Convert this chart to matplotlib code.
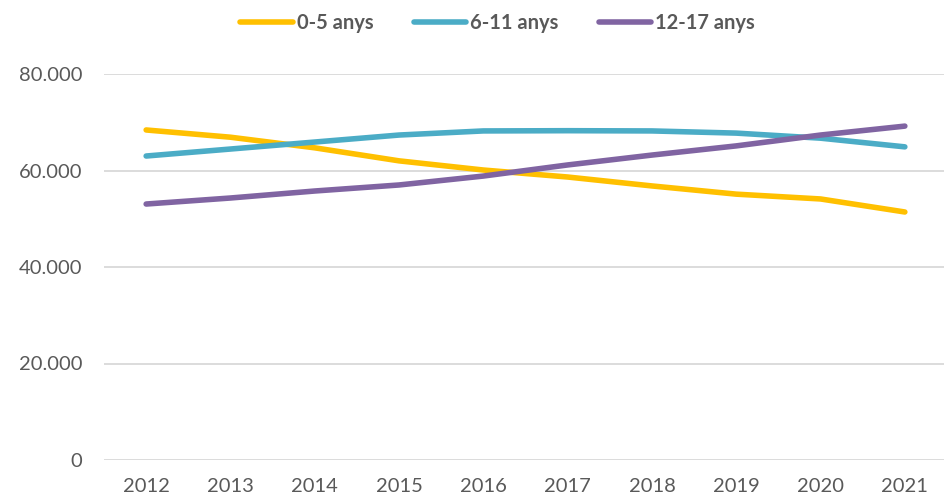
import matplotlib
matplotlib.use("Agg")
import matplotlib.pyplot as plt

# ---------------------------------------------------------------------------
# Data
# ---------------------------------------------------------------------------
years = ["2012", "2013", "2014", "2015", "2016", "2017", "2018", "2019", "2020", "2021"]
series_names = ["0-5 anys", "6-11 anys", "12-17 anys"]
age_0_5 = [68400, 66900, 64700, 62000, 60100, 58650, 56800, 55100, 54100, 51400]
age_6_11 = [63000, 64450, 65900, 67350, 68200, 68250, 68200, 67750, 66700, 64900]
age_12_17 = [53050, 54300, 55750, 57000, 58850, 61150, 63200, 65100, 67350, 69200]
y_ticks = [0, 20000, 40000, 60000, 80000]
y_labels = ["0", "20.000", "40.000", "60.000", "80.000"]

colors = ["#FFC000", "#4BACC6", "#8064A2"]
text_color = "#595959"

plt.rcParams["font.family"] = ["Lato", "DejaVu Sans"]

fig = plt.figure(figsize=(9.44, 4.97), dpi=100)
ax = fig.add_axes([104 / 944, 37 / 497, 843 / 944, 386 / 497])

x = list(range(len(years)))
for name, vals, c in zip(series_names, [age_0_5, age_6_11, age_12_17], colors):
    ax.plot(x, vals, color=c, lw=4, solid_capstyle="round", label=name)

ax.set_xlim(-0.5, len(years) - 0.5)
ax.set_ylim(0, 80000)
ax.set_yticks(y_ticks)
ax.set_yticklabels(y_labels)
ax.set_xticks(x)
ax.set_xticklabels(years)
ax.tick_params(length=0, labelsize=14.5, colors=text_color)
ax.tick_params(axis="y", pad=15.5)
ax.tick_params(axis="x", pad=13)
ax.grid(axis="y", color="#d9d9d9", lw=1.3)
ax.set_axisbelow(True)
for s in ax.spines.values():
    s.set_visible(False)

leg = fig.legend(loc="upper center", bbox_to_anchor=(0.527, 1.01), ncol=3,
                 frameon=False, handlelength=2.6, columnspacing=2.0,
                 handletextpad=0.2,
                 prop={"weight": "bold", "size": 14.5})
for t in leg.get_texts():
    t.set_color(text_color)

fig.savefig("out.png", dpi=100)
